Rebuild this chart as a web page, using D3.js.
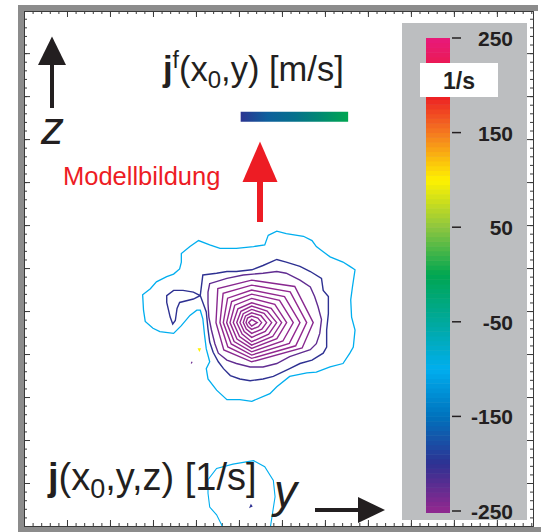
<!DOCTYPE html>
<html>
<head>
<meta charset="utf-8">
<script src="https://cdn.jsdelivr.net/npm/d3@7"></script>
<style>
body { margin: 0; background: #fff; }
svg { display: block; font-family: "Liberation Sans", Arial, Helvetica, sans-serif; }
</style>
</head>
<body>
<div id="chart"></div>
<script>
// colour legend (1/s)
var colorValues = [250, 190, 150, 100, 50, 0, -50, -100, -150, -200, -250];
var colorStops = ['#e8197b', '#ed1c24', '#f47920', '#fff200', '#8dc63f', '#00a651', '#00a99d', '#00aeef', '#0072bc', '#2e3192', '#92278f'];
var legendTicks = [250, 150, 50, -50, -150, -250];
var legendUnit = '1/s';

// contour lines of j(x0,y,z), points are [y, z] in tick units
var cyanOuter = [[28.4,33.8],[29.4,34.3],[30.5,34.0],[32.5,33.7],[33.5,33.2],[34.0,32.5],[34.8,31.9],[35.6,31.3],[37.1,30.7],[37.9,30.2],[38.5,29.8],[38.2,27.8],[38.0,26.3],[38.1,24.3],[38.5,22.8],[38.3,20.8],[37.9,20.1],[37.1,18.9],[35.6,18.5],[34.0,17.9],[32.9,17.8],[30.9,17.4],[29.4,16.2],[28.6,15.4],[26.5,14.5],[25.1,14.7],[23.6,14.7],[22.4,15.8],[21.4,17.1],[21.2,18.3],[21.6,19.1],[21.2,20.6],[21.0,22.2],[20.8,24.1],[20.5,25.1],[20.1,25.1],[19.3,24.5],[18.3,23.3],[17.4,22.4],[15.8,22.6],[15.0,23.0],[14.1,23.8],[13.9,25.1],[13.8,26.9],[14.7,27.6],[15.4,28.4],[16.6,29.0],[17.4,29.3],[18.1,29.9],[18.3,30.7],[18.3,31.7],[19.3,32.5],[20.3,33.2],[21.6,32.7],[22.8,32.3],[24.7,32.3],[26.7,32.5],[28.0,32.7]];
var cyanLower = [[23.3,-0.5],[22.4,1.3],[21.6,2.2],[21.4,3.8],[21.4,5.4],[22.4,6.7],[24.3,7.2],[26.7,7.6],[28.0,6.9],[29.0,5.3],[29.2,3.4],[29.0,2.1],[28.6,-0.5]];
var indigoLoop = [[20.8,29.2],[22.4,29.4],[23.6,29.6],[24.7,29.6],[26.5,29.8],[27.8,30.3],[29.4,31.0],[30.5,30.7],[32.1,30.2],[33.3,29.6],[34.6,28.8],[34.8,27.4],[35.4,26.7],[35.4,24.7],[35.2,22.8],[35.2,20.8],[34.8,20.1],[33.5,19.3],[32.1,18.9],[30.9,18.3],[29.0,17.4],[27.8,17.1],[26.3,16.9],[25.1,17.1],[24.0,17.5],[23.2,18.3],[22.6,19.1],[22.0,20.2],[21.6,21.4],[21.4,22.9],[21.2,24.9],[20.8,26.0],[20.5,26.8],[19.7,26.4],[18.1,26.0],[17.8,25.3],[17.6,23.9],[17.3,23.5],[17.0,24.3],[16.6,26.0],[16.6,26.8],[17.4,27.4],[18.5,27.4],[19.7,27.2],[20.5,26.8]];
var purpleRings = [
  [[21.6,28.2],[23.6,28.8],[25.5,29.2],[27.8,29.4],[29.4,29.6],[30.5,29.4],[32.1,28.6],[33.3,27.8],[33.8,26.7],[34.2,25.5],[34.6,24.0],[34.4,22.4],[34.0,21.2],[33.3,20.5],[32.1,20.1],[30.9,19.7],[29.4,18.9],[27.8,18.5],[26.3,18.5],[24.7,18.9],[23.6,19.3],[22.6,20.1],[22.2,21.2],[21.8,22.8],[21.5,24.3],[21.4,25.9],[21.4,27.2]],
  [[33.64,23.66],[31.49,27.86],[26.48,28.60],[22.54,27.61],[22.33,23.66],[23.24,20.47],[26.48,19.10],[32.35,20.70]],
  [[32.88,23.66],[30.96,27.24],[26.48,28.02],[23.16,27.06],[22.79,23.66],[23.71,20.83],[26.48,19.50],[31.60,20.96]],
  [[32.10,23.66],[30.30,26.68],[26.48,27.44],[23.68,26.50],[23.18,23.66],[24.10,21.17],[26.48,19.88],[30.86,21.24]],
  [[31.32,23.66],[29.72,26.24],[26.48,26.97],[24.15,26.11],[23.57,23.66],[24.44,21.45],[26.48,20.26],[30.11,21.52]],
  [[30.55,23.66],[29.17,25.77],[26.48,26.47],[24.51,25.68],[23.96,23.66],[24.77,21.74],[26.48,20.66],[29.41,21.80]],
  [[29.97,23.66],[28.75,25.32],[26.48,25.96],[24.88,25.27],[24.34,23.66],[25.07,22.04],[26.48,21.04],[28.92,22.04]],
  [[29.39,23.66],[28.28,25.00],[26.48,25.58],[25.23,24.97],[24.74,23.66],[25.37,22.32],[26.48,21.43],[28.46,22.32]],
  [[28.81,23.66],[27.92,24.73],[26.48,25.19],[25.50,24.70],[25.12,23.66],[25.61,22.63],[26.48,21.94],[28.06,22.63]],
  [[28.22,23.66],[27.56,24.46],[26.48,24.80],[25.77,24.44],[25.50,23.66],[25.85,22.90],[26.48,22.40],[27.66,22.90]],
  [[27.64,23.66],[27.20,24.19],[26.48,24.42],[26.00,24.18],[25.82,23.66],[26.06,23.19],[26.48,22.87],[27.27,23.19]],
  [[27.13,23.66],[26.48,24.03],[26.13,23.66],[26.48,23.25]]
];
var ringValues = [-225, -245, -250, -255, -260, -265, -270, -275, -280, -285, -290, -295];
var specks = [
  {value: 100, pts: [[20.3,20.6],[20.5,20.6],[20.4,20.4]]},
  {value: -230, pts: [[19.45,18.9],[19.55,19.1]]},
  {value: -200, pts: [[26.3,2.2],[26.5,2.3],[26.4,2.45]]}
];

// model profile jf(x0,y) in m/s
var jfRange = [25.2, 37.7];
var jfLevel = 47.6;
var jfColors = ['#2b3491', '#0d5f9c', '#05708c', '#008a70', '#00a651'];

var W = 541, H = 532;
var svg = d3.select('#chart').append('svg').attr('width', W).attr('height', H);

var yScale = d3.scaleLinear().domain([0, 59.2]).range([24, 533]);
var zScale = d3.scaleLinear().domain([0, 59.9]).range([526, 11]);
var colorScale = d3.scaleLinear().domain(colorValues).range(colorStops).clamp(true);

// frame
svg.append('rect').attr('x', 18).attr('y', 5).attr('width', 520).attr('height', 6).attr('fill', '#8c8c8c');
svg.append('rect').attr('x', 18).attr('y', 5).attr('width', 6).attr('height', 527).attr('fill', '#8c8c8c');
svg.append('rect').attr('x', 18).attr('y', 527).attr('width', 523).attr('height', 5).attr('fill', '#8c8c8c');

var minorY = d3.range(0, 59.2, 1), majorY = d3.range(0, 59.2, 5);
var minorZ = d3.range(0, 59.9, 1), majorZ = d3.range(0, 59.9, 5);

function frameAxis(axisFn, scale, vals, size, tr) {
  svg.append('g').attr('transform', tr)
    .call(axisFn(scale).tickValues(vals).tickSize(-size).tickSizeOuter(0).tickFormat(''))
    .call(function(g) { g.select('.domain').attr('stroke', '#3a3a3a'); })
    .selectAll('line').attr('stroke', '#3a3a3a');
}
frameAxis(d3.axisBottom, yScale, minorY, 3, 'translate(0,526)');
frameAxis(d3.axisBottom, yScale, majorY, 6, 'translate(0,526)');
frameAxis(d3.axisTop, yScale, minorY, 3, 'translate(0,11)');
frameAxis(d3.axisTop, yScale, majorY, 6, 'translate(0,11)');
frameAxis(d3.axisLeft, zScale, minorZ, 3, 'translate(24,0)');
frameAxis(d3.axisLeft, zScale, majorZ, 6, 'translate(24,0)');
frameAxis(d3.axisRight, zScale, minorZ, 3, 'translate(533,0)');
frameAxis(d3.axisRight, zScale, majorZ, 6, 'translate(533,0)');

// contours
svg.append('clipPath').attr('id', 'plotClip').append('rect')
  .attr('x', 24).attr('y', 11).attr('width', 509).attr('height', 515);
var plot = svg.append('g').attr('clip-path', 'url(#plotClip)');
var closedLine = d3.line().x(function(d) { return yScale(d[0]); }).y(function(d) { return zScale(d[1]); }).curve(d3.curveLinearClosed);
var openLine = d3.line().x(function(d) { return yScale(d[0]); }).y(function(d) { return zScale(d[1]); });

plot.append('path').attr('d', closedLine(cyanOuter)).attr('fill', 'none').attr('stroke', colorScale(-100)).attr('stroke-width', 1.3);
plot.append('path').attr('d', openLine(cyanLower)).attr('fill', 'none').attr('stroke', colorScale(-100)).attr('stroke-width', 1.1);
plot.append('path').attr('d', closedLine(indigoLoop)).attr('fill', 'none').attr('stroke', colorScale(-200)).attr('stroke-width', 1.4);
plot.selectAll('path.ring').data(purpleRings).enter().append('path')
  .attr('class', 'ring')
  .attr('d', closedLine)
  .attr('fill', 'none')
  .attr('stroke', function(d, i) { return colorScale(ringValues[i]); })
  .attr('stroke-width', 1.4);
plot.selectAll('path.speck').data(specks).enter().append('path')
  .attr('class', 'speck')
  .attr('d', function(d) { return closedLine(d.pts); })
  .attr('fill', 'none')
  .attr('stroke', function(d) { return colorScale(d.value); })
  .attr('stroke-width', 1.2);

// colour legend panel
svg.append('rect').attr('x', 402).attr('y', 23).attr('width', 125).attr('height', 497).attr('fill', '#bcbec0');
var cbScale = d3.scaleLinear().domain([250, -250]).range([38, 511]);
var bandStep = 5;
svg.selectAll('rect.band').data(d3.range(-250, 250, bandStep)).enter().append('rect')
  .attr('class', 'band')
  .attr('x', 426).attr('width', 24)
  .attr('y', function(v) { return cbScale(v + bandStep); })
  .attr('height', function(v) { return cbScale(v) - cbScale(v + bandStep) + (v === -250 ? 2 : 0.5); })
  .attr('fill', function(v) { return colorScale(v + bandStep / 2); });
svg.selectAll('line.cbtick').data(legendTicks).enter().append('line')
  .attr('x1', 452).attr('x2', 461)
  .attr('y1', cbScale).attr('y2', cbScale)
  .attr('stroke', '#231f20').attr('stroke-width', 1.5);
svg.selectAll('text.cblabel').data(legendTicks).enter().append('text')
  .attr('x', 513).attr('y', function(v) { return cbScale(v) + 8; })
  .attr('text-anchor', 'end').attr('font-weight', 'bold').attr('font-size', 21).attr('fill', '#231f20')
  .text(function(v) { return v; });
svg.append('rect').attr('x', 420).attr('y', 63).attr('width', 78).attr('height', 34).attr('fill', '#fff');
svg.append('text').attr('x', 459).attr('y', 89).attr('text-anchor', 'middle')
  .attr('font-weight', 'bold').attr('font-size', 23).attr('fill', '#231f20').text(legendUnit);

// model bar jf(x0,y)
var grad = svg.append('defs').append('linearGradient').attr('id', 'jfGrad');
grad.selectAll('stop').data(jfColors).enter().append('stop')
  .attr('offset', function(d, i) { return i / (jfColors.length - 1); })
  .attr('stop-color', function(d) { return d; });
svg.append('rect')
  .attr('x', yScale(jfRange[0])).attr('width', yScale(jfRange[1]) - yScale(jfRange[0]))
  .attr('y', zScale(jfLevel) - 5).attr('height', 10)
  .attr('fill', 'url(#jfGrad)');

// arrows
svg.append('rect').attr('x', 50).attr('y', 62).attr('width', 4).attr('height', 46).attr('fill', '#231f20');
svg.append('path').attr('d', 'M38,65 L52,36.5 L66,65 Z').attr('fill', '#231f20');
svg.append('rect').attr('x', 315).attr('y', 508).attr('width', 45).attr('height', 4).attr('fill', '#231f20');
svg.append('path').attr('d', 'M358,497 L385,510 L358,523 Z').attr('fill', '#231f20');
svg.append('rect').attr('x', 257).attr('y', 178).attr('width', 6).attr('height', 44).attr('fill', '#ed1c24');
svg.append('path').attr('d', 'M242.5,182 L260,141.5 L277.5,182 Z').attr('fill', '#ed1c24');

// labels
svg.append('text').attr('x', 41).attr('y', 144).attr('font-size', 46).attr('font-style', 'italic').attr('fill', '#231f20').text('z');
svg.append('text').attr('x', 274).attr('y', 507).attr('font-size', 46).attr('font-style', 'italic').attr('fill', '#231f20').text('y');
svg.append('text').attr('x', 63).attr('y', 185).attr('font-size', 25.5).attr('fill', '#ed1c24').text('Modellbildung');

var t1 = svg.append('text').attr('x', 163).attr('y', 81).attr('font-size', 34.5).attr('fill', '#231f20');
t1.append('tspan').attr('font-weight', 'bold').text('j');
t1.append('tspan').attr('dy', -13).attr('font-size', 23).text('f');
t1.append('tspan').attr('dy', 13).text('(x');
t1.append('tspan').attr('dy', 7).attr('font-size', 24).text('0');
t1.append('tspan').attr('dy', -7).text(',y) [m/s]');

var t2 = svg.append('text').attr('x', 48).attr('y', 490).attr('font-size', 38).attr('fill', '#231f20');
t2.append('tspan').attr('font-weight', 'bold').text('j');
t2.append('tspan').text('(x');
t2.append('tspan').attr('dy', 8).attr('font-size', 27).text('0');
t2.append('tspan').attr('dy', -8).text(',y,z) [1/s]');
</script>
</body>
</html>
